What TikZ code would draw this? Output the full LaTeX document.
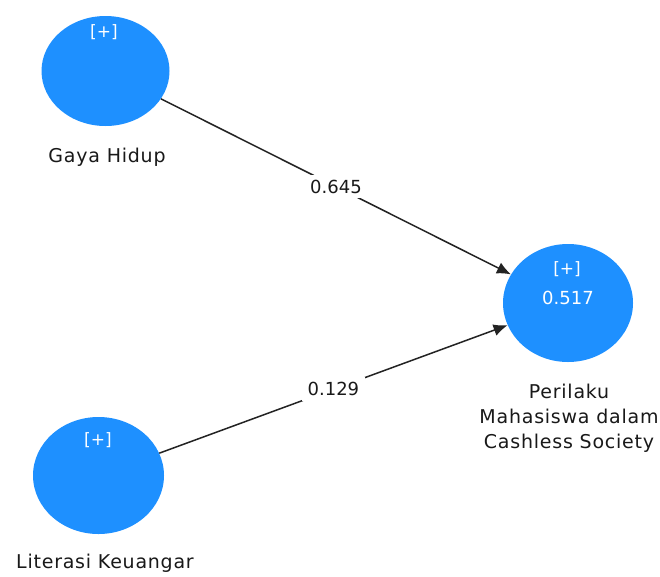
\documentclass[tikz,border=0pt]{standalone}
\usepackage{fontspec}
\setmainfont{DejaVu Sans}
\usetikzlibrary{arrows.meta,shapes.geometric}
\definecolor{lvblue}{RGB}{30,144,255}
\definecolor{txtc}{RGB}{25,25,25}
\definecolor{linec}{RGB}{35,35,35}
\begin{document}
\begin{tikzpicture}[x=1pt,y=-1pt,
  latent/.style={ellipse, fill=lvblue, draw=none, inner sep=0pt},
  lbl/.style={font=\fontsize{19}{25}\selectfont\addfontfeature{LetterSpace=4}, text=txtc, align=center, inner sep=0pt},
  num/.style={font=\fontsize{18}{22}\selectfont, text=txtc},
  plus/.style={font=\fontsize{17}{20}\selectfont, text=white, inner sep=0pt},
  inval/.style={font=\fontsize{18}{22}\selectfont, text=white, inner sep=0pt},
  pathc/.style={draw=linec, line width=1.5pt, -{Latex[length=14pt,width=12pt]}},
  elabel/.style={num, fill=white, inner xsep=6pt, inner ysep=5pt}]
\useasboundingbox (0,0) rectangle (660,576);
\fill[white] (0,0) rectangle (660,576);
% latent variables
\node[latent, minimum width=128pt, minimum height=110pt] (gaya) at (105.5,71) {};
\node[latent, minimum width=131pt, minimum height=117pt] (lit) at (98.5,475.5) {};
\node[latent, minimum width=130pt, minimum height=118pt] (per) at (568,303) {};
% inner texts
\node[plus] (gayaplus) at (104,32) {[+]};
\node[plus] (litplus) at (98,440) {[+]};
\node[plus] (perplus) at (567,269) {[+]};
\node[inval] (perr2) at (568,298) {0.517};
% labels
\node[lbl] (gayalbl) at (107,157) {Gaya Hidup};
\node[lbl] (litlbl) at (105,563) {Literasi Keuangar};
\node[lbl] (perlbl) at (569,418) {Perilaku\\Mahasiswa dalam\\Cashless Society};
% paths
\draw[pathc] (gaya) -- node[elabel, midway] (e1) {0.645} (per);
\draw[pathc] (lit) -- node[elabel, midway] (e2) {0.129} (per);
\end{tikzpicture}
\end{document}
